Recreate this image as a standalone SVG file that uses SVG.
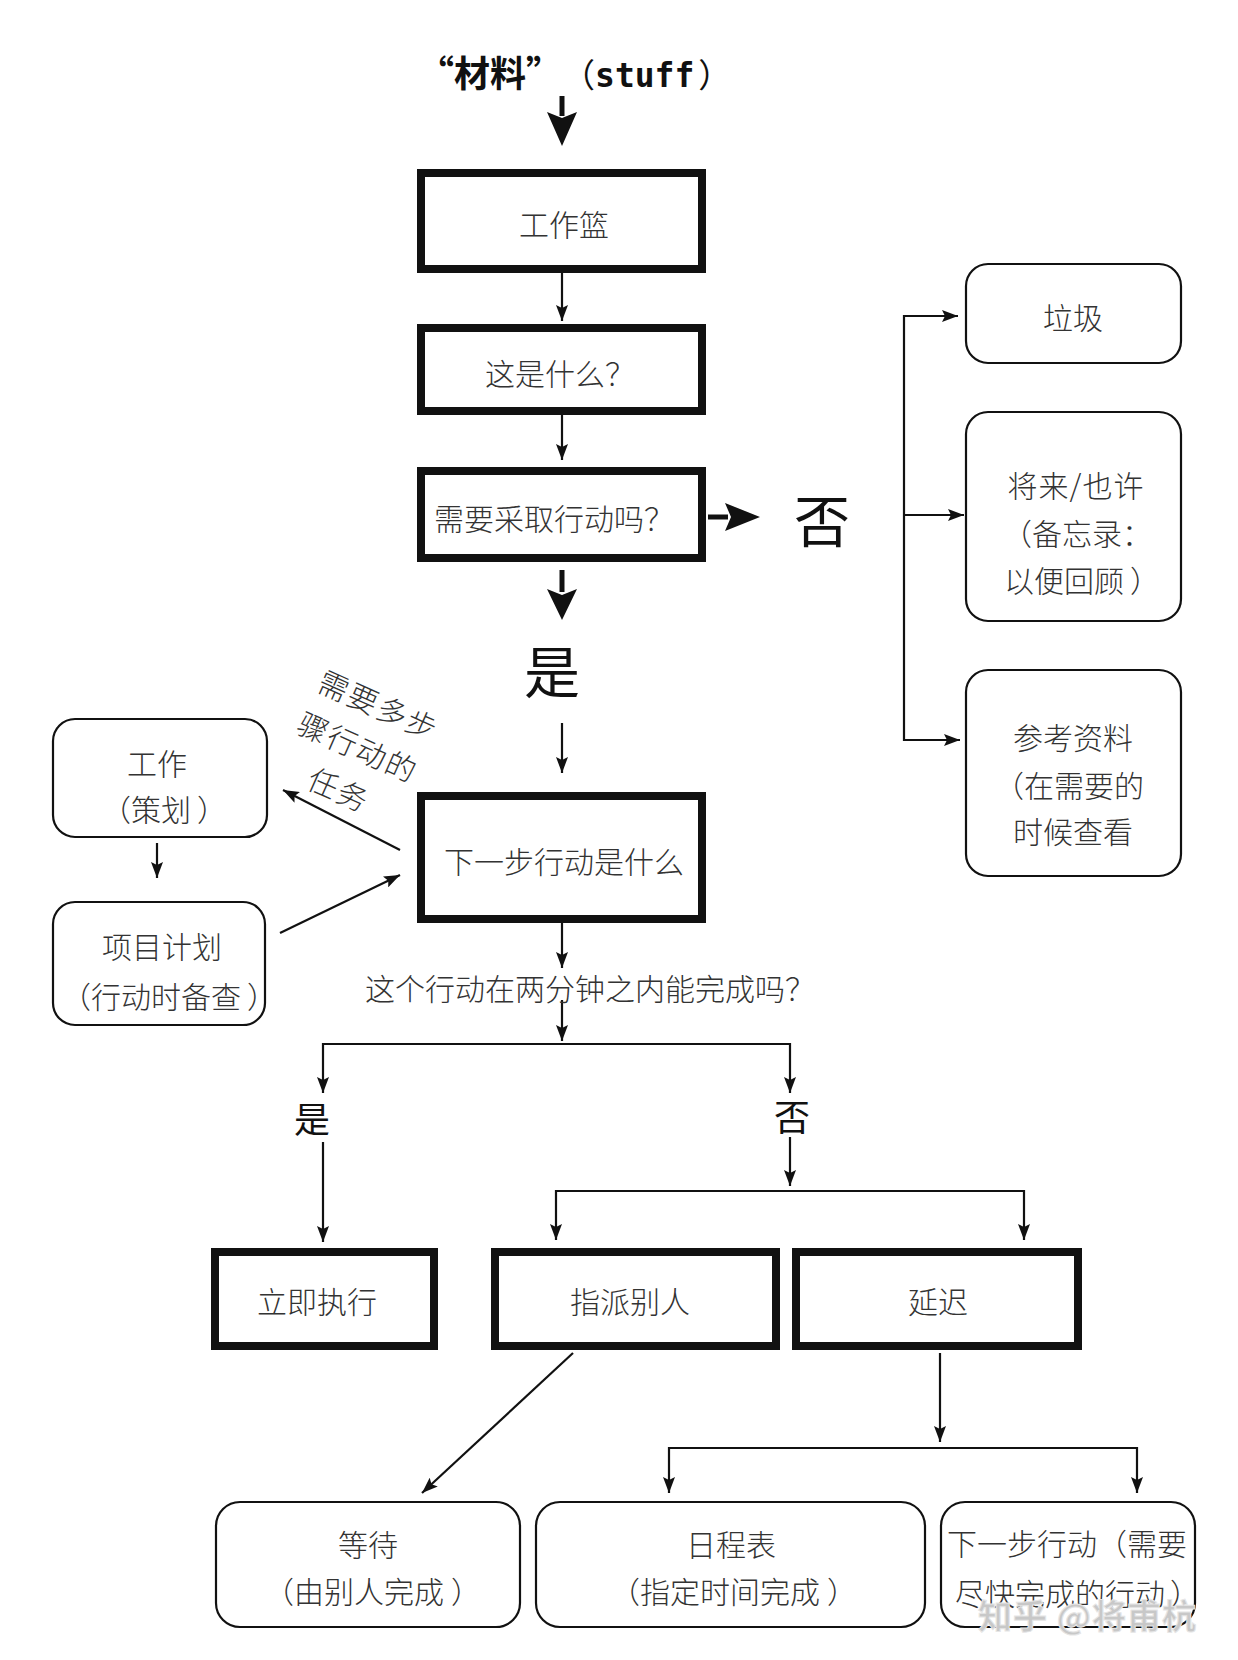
<svg xmlns="http://www.w3.org/2000/svg" width="1238" height="1660" viewBox="0 0 1238 1660">
<defs>
<style>
.bg{fill:#ffffff}
.tb{fill:#ffffff;stroke:#111;stroke-width:8}
.rb{fill:#ffffff;stroke:#111;stroke-width:2.2}
.ln{fill:none;stroke:#111;stroke-width:2.2}
text{text-spacing-trim:space-all}
.lb{font-family:"Noto Sans CJK SC","Noto Sans CJK JP",sans-serif;font-weight:300;font-size:30px;fill:#333;text-anchor:middle;dominant-baseline:central}
.st{text-anchor:start}
.big{font-family:"Noto Sans CJK SC","Noto Sans CJK JP",sans-serif;font-weight:400;fill:#111;text-anchor:middle;dominant-baseline:central}
.ttl{font-family:"Noto Sans CJK SC","Noto Sans CJK JP",sans-serif;font-size:33px;fill:#111}
.wm{font-family:"Noto Sans CJK SC","Noto Sans CJK JP",sans-serif;font-size:34px;font-weight:700;fill:#c8c8c8;stroke:#e6e6e6;stroke-width:1;dominant-baseline:central;letter-spacing:1px}
.hd{fill:#111}
</style>
<marker id="ah" viewBox="0 0 16 12" refX="16" refY="6" markerWidth="16" markerHeight="12" markerUnits="userSpaceOnUse" orient="auto">
<path d="M0,0 L16,6 L0,12 L3,6 Z" fill="#111"/>
</marker>
</defs>
<rect class="bg" x="0" y="0" width="1238" height="1660"/>

<g id="title">
<text class="ttl" x="418" y="87"><tspan font-weight="700" font-size="36">“材料”</tspan><tspan font-weight="400">（</tspan><tspan font-family="DejaVu Sans Mono" font-weight="700">stuff</tspan><tspan font-weight="400" dx="4">）</tspan></text>
</g>

<g id="connectors">
<line x1="562" y1="96" x2="562" y2="116" stroke="#111" stroke-width="5"/>
<path class="hd" d="M547,112 L562,118 L577,112 L562,146 Z"/>
<line class="ln" x1="562" y1="273" x2="562" y2="321" marker-end="url(#ah)"/>
<line class="ln" x1="562" y1="415" x2="562" y2="460" marker-end="url(#ah)"/>
<line x1="708" y1="517" x2="728" y2="517" stroke="#111" stroke-width="5"/>
<path class="hd" d="M725,503 L731,517 L725,531 L760,517 Z"/>
<line x1="562" y1="570" x2="562" y2="592" stroke="#111" stroke-width="5"/>
<path class="hd" d="M547,589 L562,595 L577,589 L562,620 Z"/>
<line class="ln" x1="562" y1="723" x2="562" y2="773" marker-end="url(#ah)"/>
<path class="ln" d="M956,316 L904,316 L904,740 L960,740" marker-end="url(#ah)"/>
<path class="ln" d="M904,316 L958,316" marker-end="url(#ah)"/>
<path class="ln" d="M904,515 L964,515" marker-end="url(#ah)"/>
<line class="ln" x1="157" y1="843" x2="157" y2="878" marker-end="url(#ah)"/>
<line class="ln" x1="400" y1="850" x2="283" y2="790" marker-end="url(#ah)"/>
<line class="ln" x1="280" y1="933" x2="400" y2="875" marker-end="url(#ah)"/>
<line class="ln" x1="562" y1="922" x2="562" y2="968" marker-end="url(#ah)"/>
<line class="ln" x1="562" y1="1000" x2="562" y2="1041" marker-end="url(#ah)"/>
<path class="ln" d="M562,1044 L323,1044 L323,1093" marker-end="url(#ah)"/>
<path class="ln" d="M562,1044 L790,1044 L790,1093" marker-end="url(#ah)"/>
<line class="ln" x1="323" y1="1142" x2="323" y2="1242" marker-end="url(#ah)"/>
<line class="ln" x1="790" y1="1137" x2="790" y2="1186" marker-end="url(#ah)"/>
<path class="ln" d="M790,1191 L556,1191 L556,1240" marker-end="url(#ah)"/>
<path class="ln" d="M790,1191 L1024,1191 L1024,1240" marker-end="url(#ah)"/>
<line class="ln" x1="573" y1="1353" x2="422" y2="1493" marker-end="url(#ah)"/>
<line class="ln" x1="940" y1="1353" x2="940" y2="1442" marker-end="url(#ah)"/>
<path class="ln" d="M940,1448 L669,1448 L669,1493" marker-end="url(#ah)"/>
<path class="ln" d="M940,1448 L1137,1448 L1137,1493" marker-end="url(#ah)"/>
</g>

<g id="inbox">
<rect class="tb" x="421" y="173" width="281" height="96"/>
<text class="lb" x="564" y="223">工作篮</text>
</g>
<g id="what">
<rect class="tb" x="421" y="328" width="281" height="83"/>
<text class="lb st" x="485" y="372">这是什么？</text>
</g>
<g id="actionable">
<rect class="tb" x="421" y="471" width="281" height="87"/>
<text class="lb st" x="434" y="517">需要采取行动吗？</text>
</g>
<g id="no-label">
<text class="big" x="822" y="517" font-size="56">否</text>
</g>
<g id="yes-label">
<text class="big" x="552" y="668" font-size="56">是</text>
</g>
<g id="next-action">
<rect class="tb" x="421" y="796" width="281" height="123"/>
<text class="lb" x="564" y="860" font-size="32">下一步行动是什么</text>
</g>
<g id="trash">
<rect class="rb" x="966" y="264" width="215" height="99" rx="22"/>
<text class="lb" x="1073" y="316">垃圾</text>
</g>
<g id="someday">
<rect class="rb" x="966" y="412" width="215" height="209" rx="22"/>
<text class="lb" x="1076" y="484" letter-spacing="1">将来/也许</text>
<text class="lb st" x="1002" y="532">（备忘录：</text>
<text class="lb st" x="1004" y="579">以便回顾<tspan dx="6">）</tspan></text>
</g>
<g id="reference">
<rect class="rb" x="966" y="670" width="215" height="206" rx="22"/>
<text class="lb" x="1073" y="736">参考资料</text>
<text class="lb st" x="994" y="784">（在需要的</text>
<text class="lb" x="1073" y="830">时候查看</text>
</g>
<g id="project">
<rect class="rb" x="53" y="719" width="214" height="118" rx="22"/>
<text class="lb" x="157" y="762">工作</text>
<text class="lb st" x="101" y="808">（策划<tspan dx="6">）</tspan></text>
</g>
<g id="project-plan">
<rect class="rb" x="53" y="902" width="212" height="123" rx="22"/>
<text class="lb" x="162" y="945">项目计划</text>
<text class="lb st" x="61" y="995" font-size="29">（行动时备查<tspan dx="6">）</tspan></text>
</g>
<g id="multistep-label" transform="translate(381,705) rotate(24)">
<text class="lb" x="-2" y="0" font-size="31" letter-spacing="2">需要多步</text>
<text class="lb" x="-4" y="46.5" font-size="31" letter-spacing="2">骤行动的</text>
<text class="lb" x="-4" y="93" font-size="31" letter-spacing="2">任务</text>
</g>
<g id="two-minutes">
<text class="lb st" x="365" y="987" font-size="32">这个行动在两分钟之内能完成吗？</text>
</g>
<g id="yes2">
<text class="big" x="312" y="1117" font-size="36">是</text>
</g>
<g id="no2">
<text class="big" x="792" y="1115" font-size="36">否</text>
</g>
<g id="do-it">
<rect class="tb" x="215" y="1252" width="219" height="94"/>
<text class="lb" x="317" y="1300" font-size="31">立即执行</text>
</g>
<g id="delegate">
<rect class="tb" x="495" y="1252" width="281" height="94"/>
<text class="lb" x="630" y="1300" font-size="31">指派别人</text>
</g>
<g id="defer">
<rect class="tb" x="796" y="1252" width="282" height="94"/>
<text class="lb" x="938" y="1300" font-size="31">延迟</text>
</g>
<g id="waiting">
<rect class="rb" x="216" y="1502" width="304" height="125" rx="24"/>
<text class="lb" x="368" y="1543" font-size="31">等待</text>
<text class="lb st" x="264" y="1590" font-size="31">（由别人完成<tspan dx="7">）</tspan></text>
</g>
<g id="calendar">
<rect class="rb" x="536" y="1502" width="389" height="125" rx="24"/>
<text class="lb" x="731" y="1543" font-size="31">日程表</text>
<text class="lb st" x="610" y="1590" font-size="31">（指定时间完成<tspan dx="7">）</tspan></text>
</g>
<g id="next-actions">
<rect class="rb" x="941" y="1502" width="254" height="125" rx="24"/>
<text class="lb st" x="947" y="1542" font-size="29.5">下一步行动（需要</text>
<text class="lb st" x="955" y="1592" font-size="30">尽快完成的行动<tspan dx="5">）</tspan></text>
</g>
<g id="watermark">
<text class="wm" x="978" y="1614">知乎 @将甫杭</text>
</g>
</svg>
